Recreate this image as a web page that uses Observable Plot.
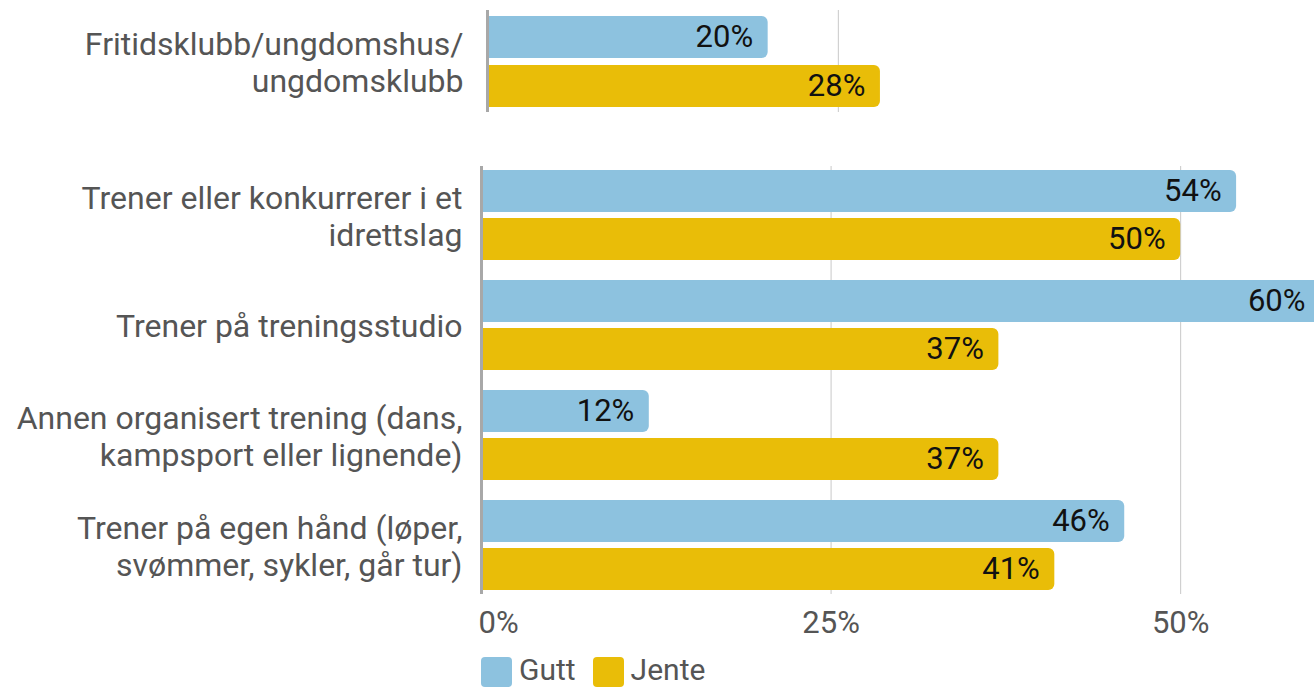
<!DOCTYPE html>
<html><head><meta charset="utf-8">
<script src="https://cdn.jsdelivr.net/npm/d3@7"></script>
<script src="https://cdn.jsdelivr.net/npm/@observablehq/plot@0.6"></script>
<style>
html,body{margin:0;padding:0;background:#fff;}
#wrap{position:relative;width:1314px;height:688px;overflow:hidden;font-family:Roboto,sans-serif;}
#top{position:absolute;left:0;top:0;}
#bottom{position:absolute;left:0;top:120px;}
#wrap svg{max-width:none !important;}
#legend{position:absolute;left:481px;top:652px;display:flex;align-items:flex-start;font-size:30px;color:#555;line-height:normal;}
.sw{width:31px;height:30px;border-radius:4px;margin-right:7px;margin-top:5px;}
.lab{margin-right:17px;}
</style></head>
<body><div id="wrap"><div id="top"></div><div id="bottom"></div><div id="legend"></div></div>
<script>
const categories = [
  "Fritidsklubb/ungdomshus/\nungdomsklubb",
  "Trener eller konkurrerer i et\nidrettslag",
  "Trener på treningsstudio",
  "Annen organisert trening (dans,\nkampsport eller lignende)",
  "Trener på egen hånd (løper,\nsvømmer, sykler, går tur)"
];
const gutt = [20, 54, 60, 12, 46];
const jente = [28, 50, 37, 37, 41];
const series = ["Gutt", "Jente"];
const colors = ["#8dc2df", "#e9bd08"];
const xTicks = [0, 25, 50];

const rows = [];
categories.forEach((c, i) => {
  rows.push({cat: c, g: "Gutt", v: gutt[i]});
  rows.push({cat: c, g: "Jente", v: jente[i]});
});

const FS_LAB = 32, FS_VAL = 31, FS_TICK = 31;
function panel(cats, opts) {
  const data = rows.filter(r => cats.includes(r.cat));
  const G = data.filter(r => r.g === "Gutt");
  const J = data.filter(r => r.g === "Jente");
  const marks = [
    Plot.gridX(opts.grid, {stroke: "#c8c8c8", strokeOpacity: 1, strokeWidth: 1}),
    Plot.barX(G, {x: "v", y: "cat", fill: colors[0], rx: 6, insetBottom: opts.band - 42, insetLeft: -12, clip: true}),
    Plot.barX(J, {x: "v", y: "cat", fill: colors[1], rx: 6, insetTop: opts.band - 42, insetLeft: -12, clip: true}),
    Plot.ruleX([0], {stroke: "#a8a8a8", strokeWidth: 3}),
    Plot.text(G, {x: "v", y: "cat", text: d => d.v + "%", textAnchor: "end", dx: -15, dy: -(opts.band / 2 - 21), fontSize: FS_VAL, fill: "#111"}),
    Plot.text(J, {x: "v", y: "cat", text: d => d.v + "%", textAnchor: "end", dx: -15, dy: opts.band / 2 - 21, fontSize: FS_VAL, fill: "#111"}),
    Plot.axisY({tickSize: 0, tickPadding: opts.pad, fontSize: FS_LAB, lineHeight: 1.16, color: "#555", label: null})
  ];
  if (opts.xaxis) {
    marks.push(Plot.axisX(xTicks.filter(t => t > 0), {tickSize: 0, tickPadding: 16, fontSize: FS_TICK, color: "#555", tickFormat: d => d + "%", label: null}));
    marks.push(Plot.axisX(xTicks.filter(t => t === 0), {tickSize: 0, tickPadding: 16, fontSize: FS_TICK, color: "#555", tickFormat: d => d + "%", textAnchor: "start", dx: -3, label: null}));
  }
  return Plot.plot({
    width: opts.width, height: opts.height,
    marginLeft: opts.ml, marginRight: 0, marginTop: opts.mt, marginBottom: opts.mb,
    style: {fontFamily: "Roboto, sans-serif", background: "transparent", maxWidth: "none"},
    x: {domain: [0, 60], axis: opts.xaxis ? undefined : null},
    y: {domain: cats, paddingInner: opts.pi, paddingOuter: 0, insetTop: opts.it, insetBottom: opts.ib},
    marks
  });
}

document.getElementById("top").append(panel(categories.slice(0, 1), {
  width: 1329, height: 120, ml: 487, mt: 10, mb: 8, it: 6, ib: 5, pad: 24, grid: [25], xaxis: false, pi: 0, band: 91
}));
document.getElementById("bottom").append(panel(categories.slice(1), {
  width: 1320, height: 525, ml: 481, mt: 46, mb: 51, it: 4, ib: 4, pad: 19, grid: [25, 50], xaxis: true, pi: 20 / 110, band: 90
}));

const leg = document.getElementById("legend");
series.forEach((s, i) => {
  const sw = document.createElement("div"); sw.className = "sw"; sw.style.background = colors[i];
  const lb = document.createElement("div"); lb.className = "lab"; lb.textContent = s;
  leg.append(sw, lb);
});
</script>
</body></html>
